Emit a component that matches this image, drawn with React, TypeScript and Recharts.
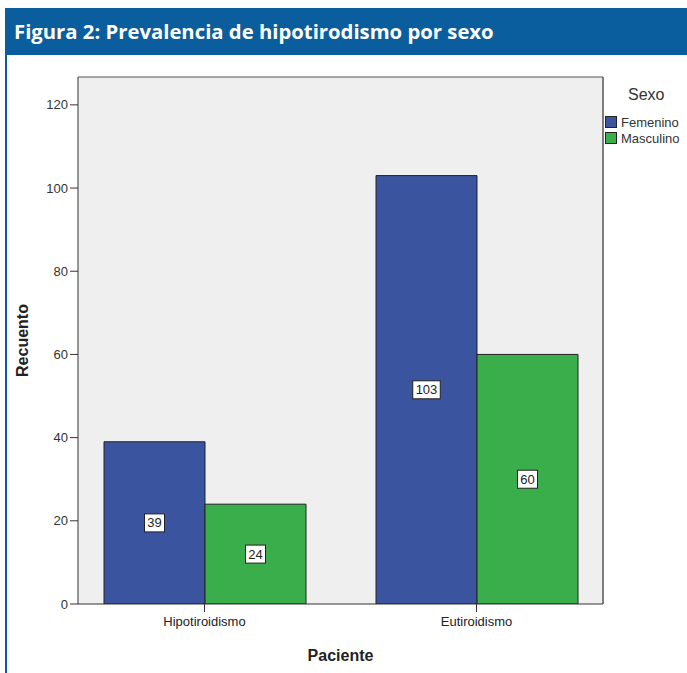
import { Bar, BarChart, CartesianGrid, LabelList, Legend, XAxis, YAxis } from "recharts";

const categories = ["Hipotiroidismo", "Eutiroidismo"];
const femenino = [39, 103];
const masculino = [24, 60];
const yTicks = [0, 20, 40, 60, 80, 100, 120];
const series = [
  { key: "femenino", name: "Femenino", color: "#3b54a0" },
  { key: "masculino", name: "Masculino", color: "#3aae4b" },
];

const HEADER_BLUE = "#0a5e9d";
const FONT = "'Liberation Sans', Arial, sans-serif";

const data = categories.map((c, i) => ({ paciente: c, femenino: femenino[i], masculino: masculino[i] }));

/** White boxed count in the middle of each bar, SPSS style. */
function BoxLabel(props: any) {
  const { x, y, width, height, value } = props;
  const cx = Number(x) + Number(width) / 2;
  const cy = Number(y) + Number(height) / 2;
  const w = String(value).length * 7.5 + 5;
  return (
    <g>
      <rect x={cx - w / 2} y={cy - 9} width={w} height={18} fill="#fff" stroke="#222" strokeWidth={1} />
      <text x={cx} y={cy + 4.5} textAnchor="middle" fontSize={13} fontFamily={FONT} fill="#222">
        {value}
      </text>
    </g>
  );
}

function SexoLegend() {
  return (
    <div style={{ fontFamily: FONT, color: "#333" }}>
      <div style={{ fontSize: 16, marginLeft: 23, height: 24, lineHeight: "24px" }}>Sexo</div>
      <div style={{ height: 7 }} />
      {series.map((s) => (
        <div key={s.key} style={{ display: "flex", alignItems: "center", height: 16 }}>
          <span
            style={{
              display: "inline-block",
              width: 10,
              height: 10,
              background: s.color,
              border: "1px solid #222",
              marginRight: 4,
            }}
          />
          <span style={{ fontSize: 13 }}>{s.name}</span>
        </div>
      ))}
    </div>
  );
}

export default function App() {
  return (
    <div style={{ position: "absolute", left: 0, top: 0, width: 687, height: 673, background: "#fff", overflow: "hidden" }}>
      <div
        style={{
          position: "absolute",
          left: 5,
          top: 8,
          width: 682,
          height: 47,
          background: HEADER_BLUE,
          color: "#fff",
          fontFamily: "'Open Sans', sans-serif",
          fontWeight: 700,
          fontSize: 20.3,
          lineHeight: "46px",
          paddingLeft: 9,
          boxSizing: "border-box",
        }}
      >
        Figura 2: Prevalencia de hipotirodismo por sexo
      </div>
      <div style={{ position: "absolute", left: 5, top: 55, width: 2, height: 618, background: HEADER_BLUE }} />

      <div style={{ position: "absolute", left: 0, top: 0 }}>
        <BarChart
          width={687}
          height={673}
          data={data}
          margin={{ top: 76, right: 1, bottom: 9, left: 8 }}
          barGap={0}
          barCategoryGap={35.5}
        >
          <CartesianGrid fill="#eeefee" horizontal={false} vertical={false} />
          <XAxis
            dataKey="paciente"
            height={60}
            padding={{ left: -9.5, right: -9.5 }}
            tickSize={8}
            tickMargin={5}
            axisLine={{ stroke: "#333" }}
            tickLine={{ stroke: "#333" }}
            tick={{ fontSize: 13, fontFamily: FONT, fill: "#222" }}
            label={{
              value: "Paciente",
              position: "insideBottom",
              offset: 3,
              style: { fontSize: 16, fontWeight: 700, fontFamily: FONT, fill: "#222" },
            }}
          />
          <XAxis xAxisId="top" orientation="top" dataKey="paciente" height={1} tick={false} tickLine={false} axisLine={{ stroke: "#555" }} />
          <YAxis
            width={70}
            domain={[0, 126.7]}
            ticks={yTicks}
            allowDataOverflow
            tickSize={8}
            axisLine={{ stroke: "#333" }}
            tickLine={{ stroke: "#333" }}
            tick={{ fontSize: 13, fontFamily: FONT, fill: "#333" }}
            label={{
              value: "Recuento",
              angle: -90,
              position: "insideLeft",
              offset: 14.5,
              style: { fontSize: 16, fontWeight: 700, fontFamily: FONT, fill: "#222", textAnchor: "middle" },
            }}
          />
          <YAxis yAxisId="right" orientation="right" width={1} domain={[0, 1]} tick={false} tickLine={false} axisLine={{ stroke: "#555", strokeWidth: 1.5 }} />
          <Legend
            layout="vertical"
            align="right"
            verticalAlign="top"
            content={() => <SexoLegend />}
            wrapperStyle={{ left: 605, top: 83, width: 82 }}
          />
          {series.map((s) => (
            <Bar key={s.key} dataKey={s.key} name={s.name} fill={s.color} stroke="#222" strokeWidth={1} isAnimationActive={false}>
              <LabelList dataKey={s.key} content={BoxLabel} />
            </Bar>
          ))}
        </BarChart>
      </div>
    </div>
  );
}
